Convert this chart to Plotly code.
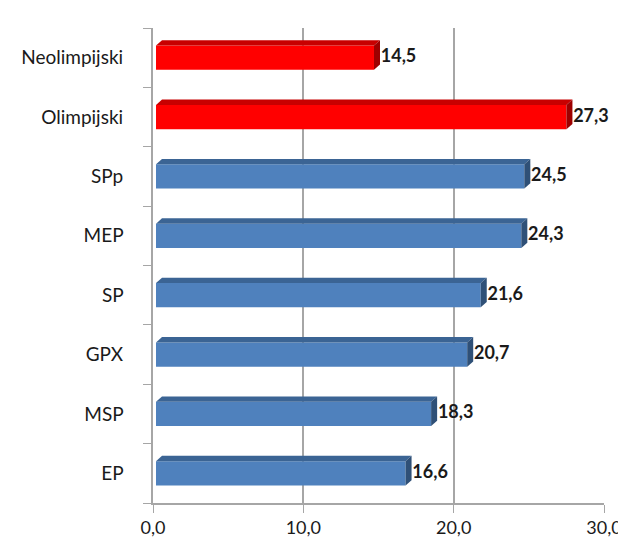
import plotly.graph_objects as go

categories = ["EP", "MSP", "GPX", "SP", "MEP", "SPp", "Olimpijski", "Neolimpijski"]
values = [16.6, 18.3, 20.7, 21.6, 24.3, 24.5, 27.3, 14.5]
groups = ["std", "std", "std", "std", "std", "std", "red", "red"]
tick_vals = [0, 10, 20, 30]
tick_text = ["0,0", "10,0", "20,0", "30,0"]

front = {"std": "#4F81BD", "red": "#FF0000"}
topc = {"std": "#3B6494", "red": "#C80000"}
sidec = {"std": "#2F5077", "red": "#9E0000"}

bw = 0.41
dx, dy = 0.4, 0.09

FONT = "Lato, Open Sans, sans-serif"

fig = go.Figure()
fig.add_trace(go.Bar(
    y=categories, x=values, orientation="h", width=bw,
    base=0.2,
    marker=dict(color=[front[g] for g in groups], line=dict(width=0)),
    hoverinfo="skip",
))
fig.add_trace(go.Scatter(
    y=categories, x=[v + 0.2 + dx + 0.05 for v in values], mode="text",
    text=[f"{v:.1f}".replace(".", ",") for v in values],
    textposition="middle right",
    textfont=dict(family=FONT, size=18, color="#1a1a1a", weight="bold"),
    cliponaxis=False, hoverinfo="skip",
))

shapes = []
for i, (v, g) in enumerate(zip(values, groups)):
    x0 = 0.2
    x1 = v + 0.2
    yt = i + bw / 2
    yb = i - bw / 2
    shapes.append(dict(type="path", xref="x", yref="y",
                       path=f"M {x0},{yt} L {x1},{yt} L {x1+dx},{yt+dy} L {x0+dx},{yt+dy} Z",
                       fillcolor=topc[g], line=dict(width=0), layer="above"))
    shapes.append(dict(type="path", xref="x", yref="y",
                       path=f"M {x1},{yb} L {x1},{yt} L {x1+dx},{yt+dy} L {x1+dx},{yb+dy} Z",
                       fillcolor=sidec[g], line=dict(width=0), layer="above"))

fig.update_layout(
    width=626, height=543,
    margin=dict(l=145, r=20, t=20, b=48),
    paper_bgcolor="white", plot_bgcolor="white",
    showlegend=False,
    shapes=shapes,
    xaxis=dict(range=[0, 30], tickvals=tick_vals, ticktext=tick_text,
               showgrid=True, gridcolor="#A6A6A6", gridwidth=1.5,
               showline=True, linecolor="#A6A6A6", linewidth=1.5,
               ticks="outside", ticklen=8, tickcolor="#A6A6A6",
               zeroline=False,
               tickfont=dict(family=FONT, size=18, color="#1a1a1a")),
    yaxis=dict(type="category", categoryorder="array", categoryarray=categories,
               range=[-0.5, 7.5],
               showline=True, linecolor="#A6A6A6", linewidth=1.5,
               ticks="outside", tickson="boundaries", ticklen=8, tickcolor="#A6A6A6",
               showgrid=False,
               tickfont=dict(family=FONT, size=19, color="#1a1a1a"),
               ticksuffix="     "),
    font=dict(family=FONT),
)

fig.write_html("out.html")
